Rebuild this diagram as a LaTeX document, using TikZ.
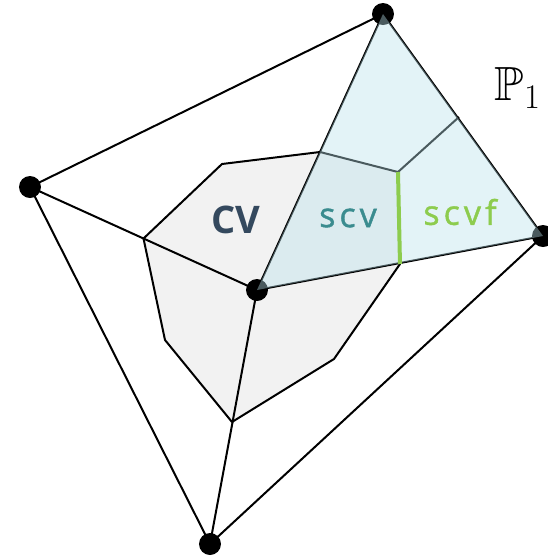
\documentclass[tikz,border=0pt]{standalone}
\usepackage{amssymb}
\usepackage{fontspec}
\newfontfamily\labelfont{Open Sans}
\newfontfamily\spacedfont[LetterSpace=12, FakeBold=1.2]{Open Sans}
\definecolor{cvgray}{HTML}{F2F2F2}
\definecolor{scvblue}{RGB}{185,225,235}
\definecolor{cvtext}{HTML}{34495E}
\definecolor{scvtext}{HTML}{3A8C8F}
\definecolor{scvfgreen}{HTML}{8DCC4E}
\tikzset{
  edge/.style={draw=black, line width=1pt},
  vtx/.style={circle, fill=black, inner sep=0pt, minimum size=11pt}
}
\begin{document}
\begin{tikzpicture}[x=0.5pt,y=-0.5pt]
\useasboundingbox (0,0) rectangle (548,559);
% vertices
\coordinate (A) at (383,14);
\coordinate (B) at (30,187);
\coordinate (C) at (257,290);
\coordinate (D) at (543,236);
\coordinate (E) at (210,544);
% dual points
\coordinate (mBC) at (143.5,238.5);
\coordinate (gABC) at (222,164);
\coordinate (mAC) at (320,152);
\coordinate (gACD) at (398,172);
\coordinate (mCD) at (400,264);
\coordinate (gCDE) at (334,359);
\coordinate (mCE) at (232,422);
\coordinate (gBCE) at (165,340);
\coordinate (mAD) at (459,117);
% CV fill
\fill[cvgray] (mBC) -- (gABC) -- (mAC) -- (gACD) -- (mCD) -- (gCDE) -- (mCE) -- (gBCE) -- cycle;
% triangles
\draw[edge] (A) -- (B) (B) -- (C) (C) -- (A) (A) -- (D) (C) -- (D) (B) -- (E) (C) -- (E) (D) -- (E);
% CV outline
\draw[edge, line join=round] (mBC) -- (gABC) -- (mAC) -- (gACD) -- (mCD) -- (gCDE) -- (mCE) -- (gBCE) -- cycle;
\draw[edge] (gACD) -- (mAD);
% vertex dots
\node[vtx] (nA) at (A) {};
\node[vtx] (nB) at (B) {};
\node[vtx] (nC) at (C) {};
\node[vtx] (nD) at (D) {};
\node[vtx] (nE) at (E) {};
% translucent shading of the triangle
\fill[fill=scvblue, fill opacity=0.4] (A) -- (C) -- (D) -- cycle;
% scvf
\draw[scvfgreen, line width=2pt] (gACD) -- (mCD);
% labels
\node[text=cvtext, font=\labelfont\bfseries\fontsize{19}{22}\selectfont] (lcv) at (236,220) {CV};
\node[text=scvtext, font=\spacedfont\fontsize{17}{20}\selectfont] (lscv) at (348,218) {scv};
\node[text=scvfgreen, font=\spacedfont\fontsize{17}{20}\selectfont] (lscvf) at (460,212) {scvf};
\node[font=\fontsize{24}{28}\selectfont] (lp) at (518,88) {$\mathbb{P}_1$};
\end{tikzpicture}
\end{document}
